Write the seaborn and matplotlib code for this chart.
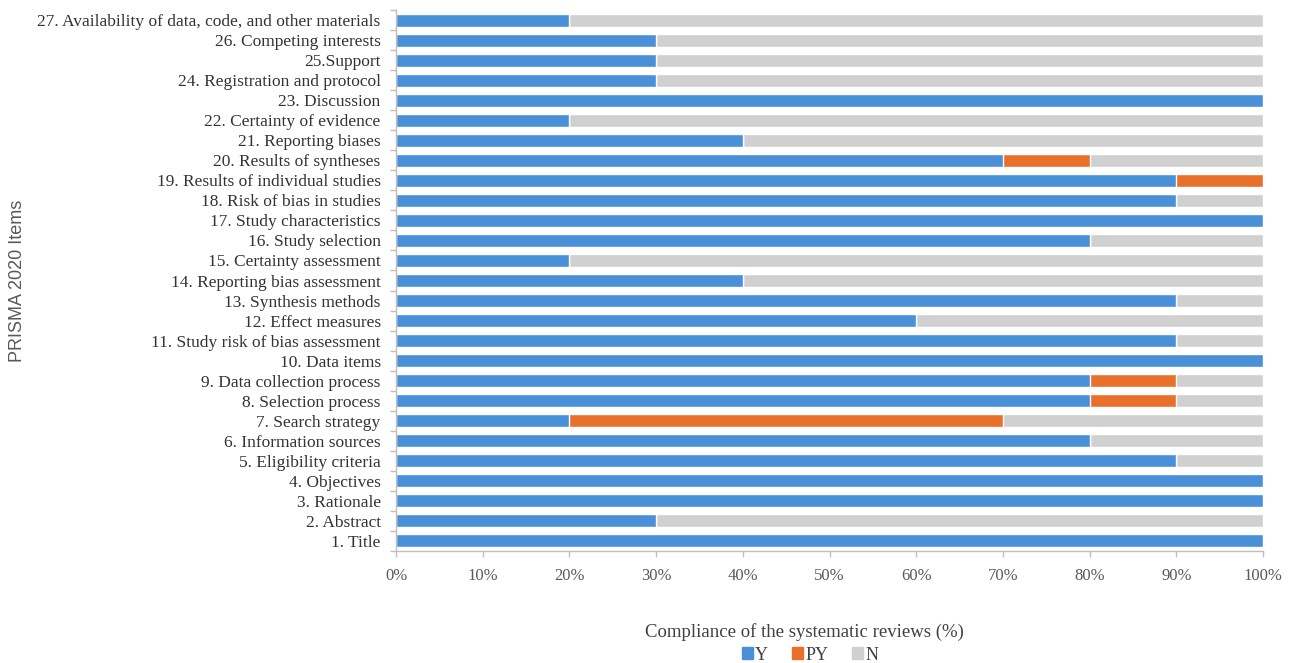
import matplotlib
matplotlib.use("Agg")
import matplotlib.pyplot as plt
import seaborn as sns
import pandas as pd
import numpy as np
from matplotlib.patches import Patch

items = [
    "27. Availability of data, code, and other materials",
    "26. Competing interests",
    "25.Support",
    "24. Registration and protocol",
    "23. Discussion",
    "22. Certainty of evidence",
    "21. Reporting biases",
    "20. Results of syntheses",
    "19. Results of individual studies",
    "18. Risk of bias in studies",
    "17. Study characteristics",
    "16. Study selection",
    "15. Certainty assessment",
    "14. Reporting bias assessment",
    "13. Synthesis methods",
    "12. Effect measures",
    "11. Study risk of bias assessment",
    "10. Data items",
    "9. Data collection process",
    "8. Selection process",
    "7. Search strategy",
    "6. Information sources",
    "5. Eligibility criteria",
    "4. Objectives",
    "3. Rationale",
    "2. Abstract",
    "1. Title",
]
y_vals = [20, 30, 30, 30, 100, 20, 40, 70, 90, 90, 100, 80, 20, 40, 90, 60, 90, 100,
          80, 80, 20, 80, 90, 100, 100, 30, 100]
py_vals = [0, 0, 0, 0, 0, 0, 0, 10, 10, 0, 0, 0, 0, 0, 0, 0, 0, 0,
           10, 10, 50, 0, 0, 0, 0, 0, 0]
n_vals = [100 - a - b for a, b in zip(y_vals, py_vals)]

df = pd.DataFrame({"item": items, "Y": y_vals, "PY": py_vals, "N": n_vals})
df["Y_PY"] = df["Y"] + df["PY"]
df["total"] = df["Y_PY"] + df["N"]

c_y = "#4A90D9"
c_py = "#E8702A"
c_n = "#D0D0D0"

sns.set_theme(style="white")
plt.rcParams["font.family"] = ["Liberation Serif", "DejaVu Serif"]

fig = plt.figure(figsize=(12.91, 6.63), dpi=100)
ax = fig.add_axes([396/1291, 1 - 551/663, (1263-396)/1291, (551-10)/663])

w = 0.65
sns.barplot(data=df, y="item", x="total", color=c_n, orient="h", width=w, ax=ax,
            saturation=1, order=items)
sns.barplot(data=df, y="item", x="Y_PY", color=c_py, orient="h", width=w, ax=ax,
            saturation=1, order=items)
sns.barplot(data=df, y="item", x="Y", color=c_y, orient="h", width=w, ax=ax,
            saturation=1, order=items)

ax.set_xlim(0, 100)
ax.set_ylim(len(items) - 0.5, -0.5)
ax.set_xticks(np.arange(0, 101, 10))
ax.set_xticklabels([f"{v}%" for v in range(0, 101, 10)], fontsize=12, color="#595959")
ax.set_yticks(range(len(items)))
ax.set_yticklabels(items, fontsize=12.5, color="#333333")
ax.tick_params(axis="y", length=0, pad=11)
ax.tick_params(axis="x", length=4, width=1, color="#BFBFBF", direction="out", bottom=True, pad=8)
ax.set_yticks(np.arange(-0.5, len(items), 1), minor=True)
ax.tick_params(axis="y", which="minor", length=4, color="#BFBFBF", left=True)

for s in ["top", "right"]:
    ax.spines[s].set_visible(False)
for s in ["left", "bottom"]:
    ax.spines[s].set_color("#BFBFBF")
    ax.spines[s].set_linewidth(1)

ax.set_ylabel("")
ax.set_xlabel("")
fig.text(18/1291, 1 - 281/663, "PRISMA 2020 Items", rotation=90, ha="center", va="center",
         fontsize=13, color="#595959", family=["Liberation Sans", "DejaVu Sans"])
fig.text(804/1291, 1 - 632/663, "Compliance of the systematic reviews (%)", ha="center",
         va="center", fontsize=13.5, color="#404040")

handles = [Patch(color=c_y, label="Y"), Patch(color=c_py, label="PY"), Patch(color=c_n, label="N")]
fig.legend(handles=handles, loc="center", bbox_to_anchor=(810/1291, 1 - 655/663), ncol=3,
           frameon=False, fontsize=13, handlelength=0.6, handleheight=0.6, handletextpad=0.15,
           columnspacing=1.3, labelcolor="#404040", borderpad=0)

fig.savefig("out.png", dpi=100)
